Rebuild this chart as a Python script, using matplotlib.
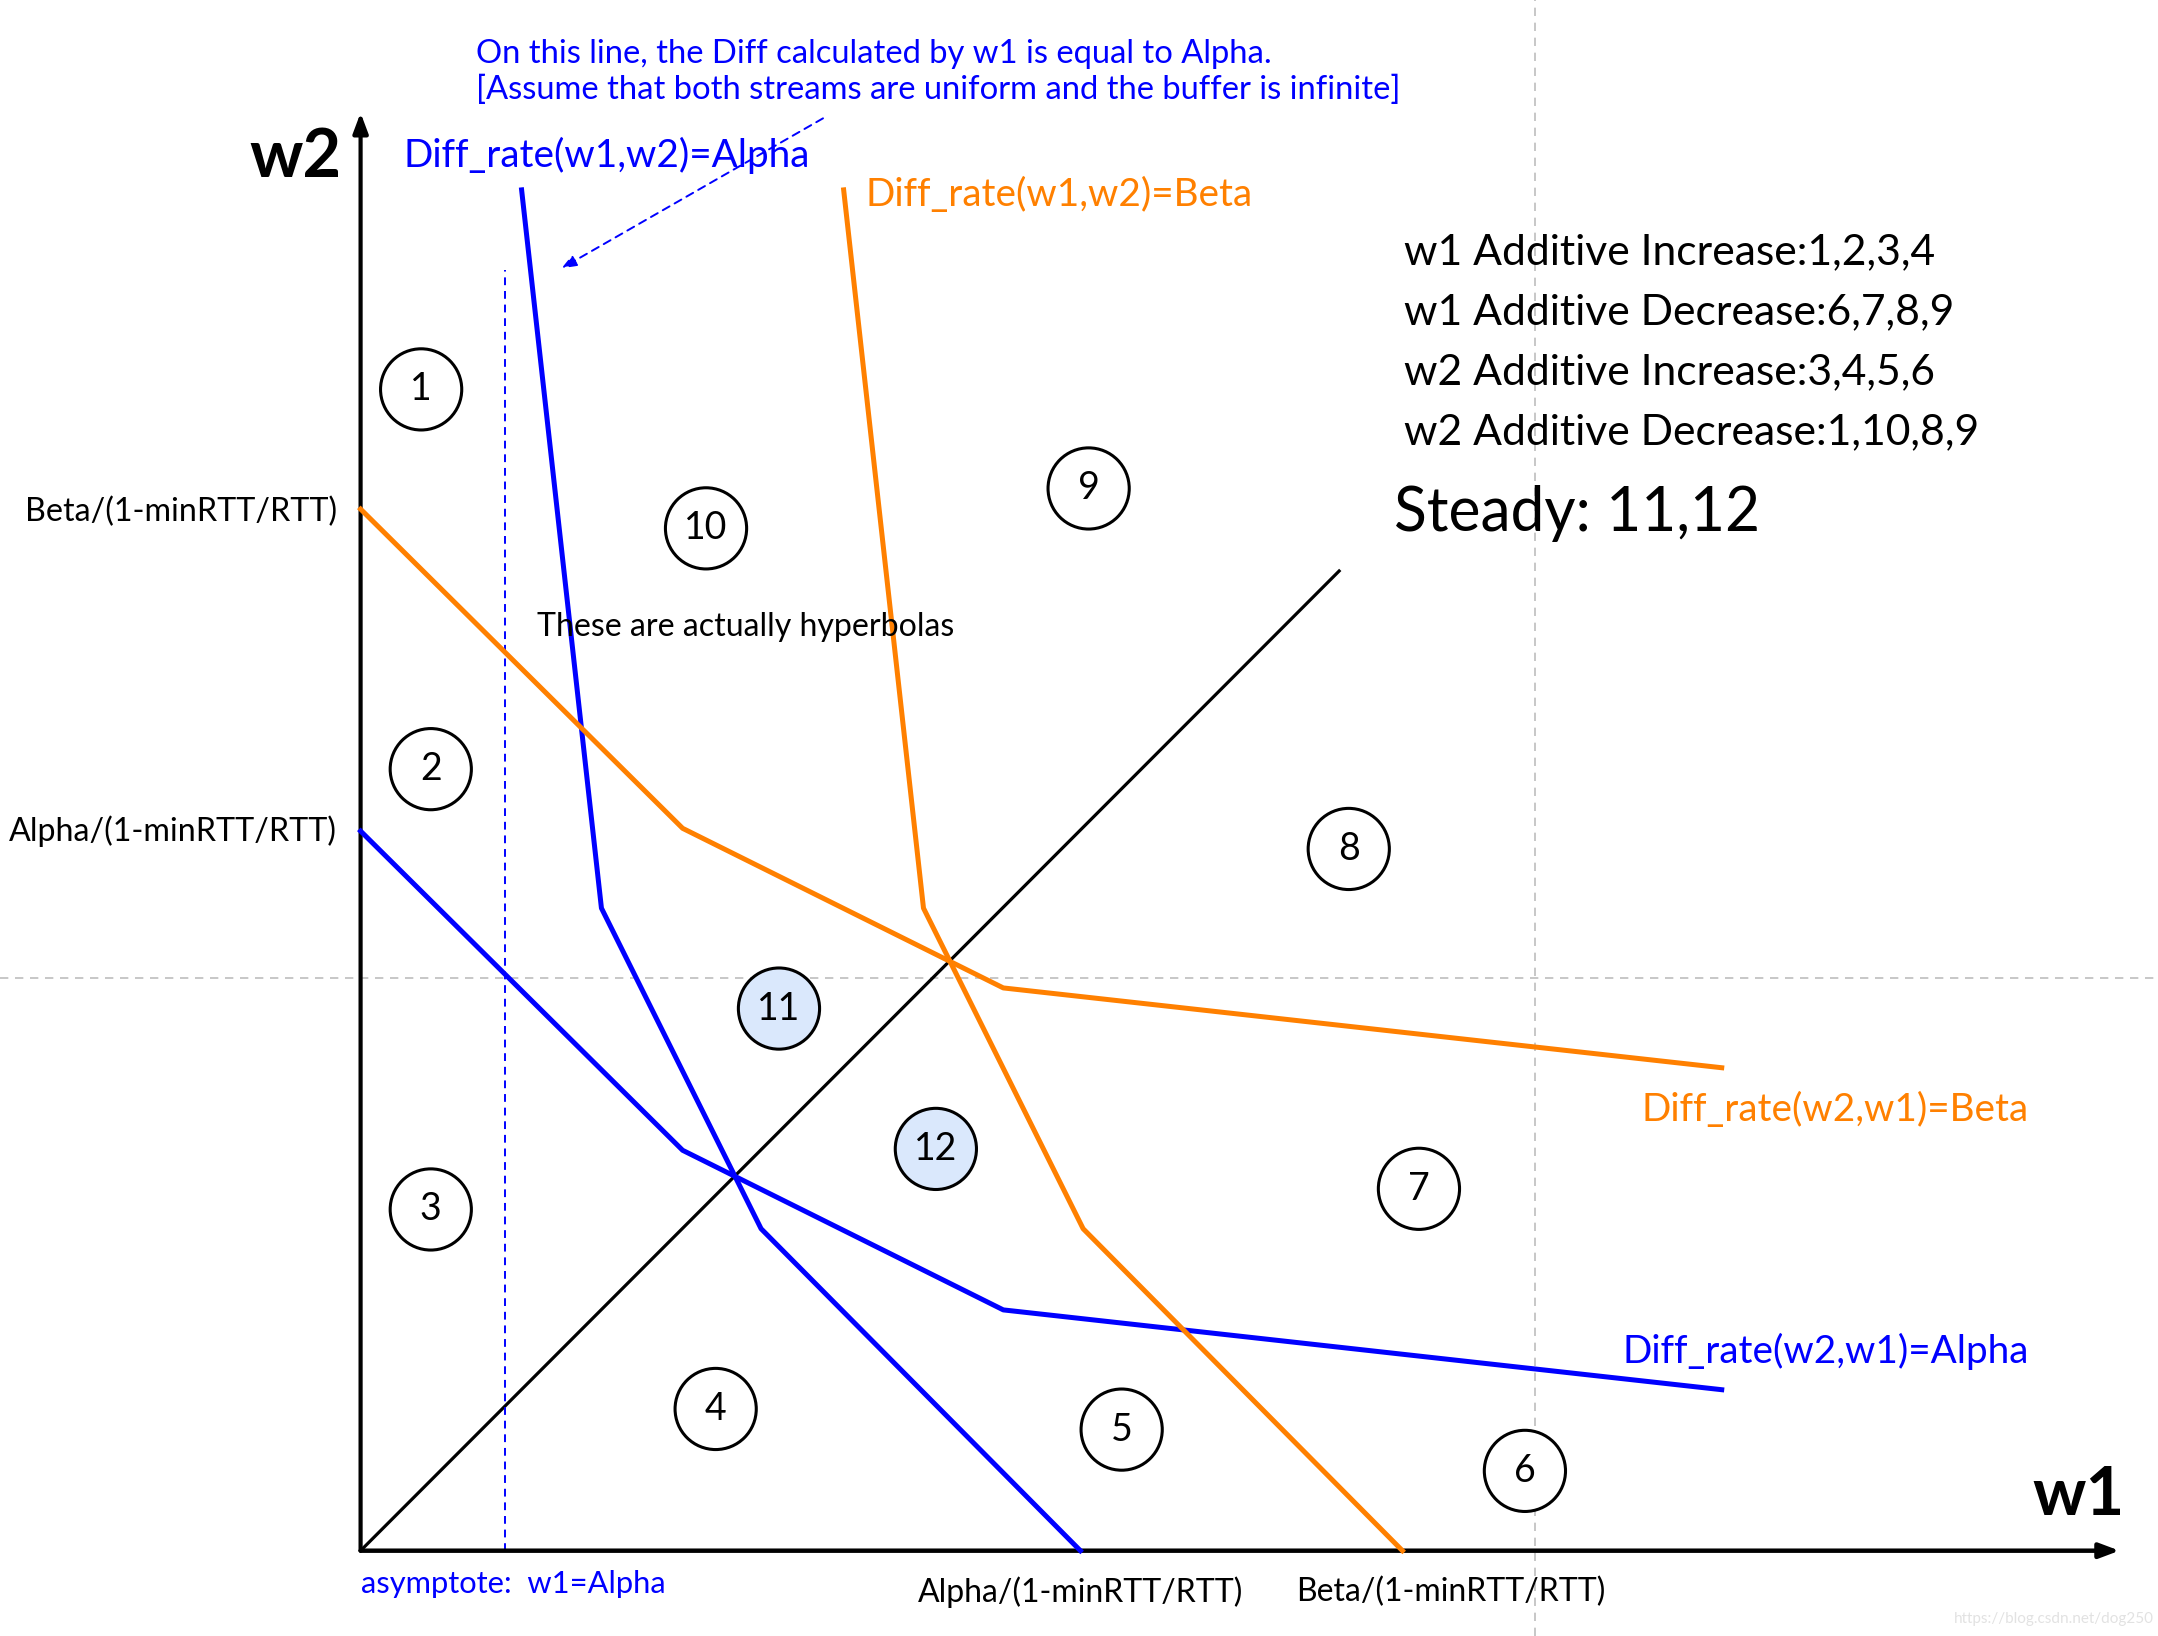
import matplotlib
matplotlib.use("Agg")
import matplotlib.pyplot as plt
from matplotlib.patches import Circle

plt.rcParams['font.family'] = ['Lato', 'DejaVu Sans']

# ---- data (diagram units, origin at axis origin, w2 upward) ----
blue_w1w2_x = [117, 175, 291, 523]
blue_w1w2_y = [989, 467, 234, 0]
blue_w2w1_x = [0, 234, 467, 989]
blue_w2w1_y = [523, 291, 175, 117]
orange_w1w2_x = [351, 409, 525, 757]
orange_w1w2_y = [989, 467, 234, 0]
orange_w2w1_x = [0, 234, 467, 989]
orange_w2w1_y = [757, 525, 409, 351]
diag_x = [0, 711]
diag_y = [0, 712]
asym_x = 105
asym_top = 931
grid_h_y = 416
grid_v_x = 853

region_labels = ['1', '2', '3', '4', '5', '6', '7', '8', '9', '10', '11', '12']
region_x = [44, 51, 51, 258, 553, 846, 769, 718, 529, 251, 304, 418]
region_y = [844, 568, 248, 103, 88, 58, 263, 510, 772, 743, 394, 292]
steady_regions = ['11', '12']

rules = ["w1 Additive Increase:1,2,3,4",
         "w1 Additive Decrease:6,7,8,9",
         "w2 Additive Increase:3,4,5,6",
         "w2 Additive Decrease:1,10,8,9"]

BLUE = '#0000FF'
ORANGE = '#FF8000'

fig = plt.figure(figsize=(21.58, 16.36), dpi=100)
ax = fig.add_axes([0, 0, 1, 1])
ax.set_xlim(-262, 1306)
ax.set_ylim(-62, 1127)
ax.axis('off')

# grey dashed guides
ax.axhline(grid_h_y, color='#bdbdbd', lw=1.2, ls=(0, (5, 4)), zorder=0)
ax.axvline(grid_v_x, color='#bdbdbd', lw=1.2, ls=(0, (5, 4)), zorder=0)

# axes with arrows
ax.annotate('', xy=(0, 1045), xytext=(0, 0),
            arrowprops=dict(arrowstyle='-|>,head_length=1.2,head_width=0.45', lw=3, color='black',
                            shrinkA=0, shrinkB=0))
ax.annotate('', xy=(1278, 0), xytext=(0, 0),
            arrowprops=dict(arrowstyle='-|>,head_length=1.2,head_width=0.45', lw=3.2, color='black',
                            shrinkA=0, shrinkB=0))

# diagonal
ax.plot(diag_x, diag_y, color='black', lw=2.3, zorder=2)

# asymptote
ax.plot([asym_x, asym_x], [0, asym_top], color=BLUE, lw=1.4, ls=(0, (4, 3)), zorder=2)

# curves
ax.plot(blue_w1w2_x, blue_w1w2_y, color=BLUE, lw=3.6, zorder=3)
ax.plot(blue_w2w1_x, blue_w2w1_y, color=BLUE, lw=3.6, zorder=3)
ax.plot(orange_w1w2_x, orange_w1w2_y, color=ORANGE, lw=3.6, zorder=3)
ax.plot(orange_w2w1_x, orange_w2w1_y, color=ORANGE, lw=3.6, zorder=3)

# pointer arrow
ax.annotate('', xy=(146, 932), xytext=(336, 1041),
            arrowprops=dict(arrowstyle='-|>,head_length=0.9,head_width=0.35', lw=1.4, color=BLUE,
                            ls=(0, (4, 3)), shrinkA=0, shrinkB=0))

# region circles
for lab, x, y in zip(region_labels, region_x, region_y):
    fc = '#dae8fc' if lab in steady_regions else 'white'
    ax.add_patch(Circle((x, y), 29.5, facecolor=fc, edgecolor='black', lw=2.2, zorder=4))
    ax.text(x, y, lab, ha='center', va='center', fontsize=27, color='black', zorder=5)

# text
ax.text(-47, 1012, 'w2', ha='center', va='center', fontsize=48, fontweight='bold')
ax.text(1248, 40, 'w1', ha='center', va='center', fontsize=48, fontweight='bold')
ax.text(31, 1014, 'Diff_rate(w1,w2)=Alpha', ha='left', va='center', fontsize=27.8, color=BLUE)
ax.text(367, 985, 'Diff_rate(w1,w2)=Beta', ha='left', va='center', fontsize=27.8, color=ORANGE)
ax.text(931, 320, 'Diff_rate(w2,w1)=Beta', ha='left', va='center', fontsize=27.8, color=ORANGE)
ax.text(917, 145, 'Diff_rate(w2,w1)=Alpha', ha='left', va='center', fontsize=27.8, color=BLUE)
ax.text(84, 1088, 'On this line, the Diff calculated by w1 is equal to Alpha.', ha='left', va='center',
        fontsize=23.6, color=BLUE)
ax.text(84, 1062, '[Assume that both streams are uniform and the buffer is infinite]', ha='left',
        va='center', fontsize=23.6, color=BLUE)
ax.text(128, 671, 'These are actually hyperbolas', ha='left', va='center', fontsize=23.1, color='black')
ax.text(-17, 755, 'Beta/(1-minRTT/RTT)', ha='right', va='center', fontsize=23.2)
ax.text(-17, 523, 'Alpha/(1-minRTT/RTT)', ha='right', va='center', fontsize=23.2)
ax.text(0, -24, 'asymptote:  w1=Alpha', ha='left', va='center', fontsize=22.2, color=BLUE)
ax.text(523, -30, 'Alpha/(1-minRTT/RTT)', ha='center', va='center', fontsize=23)
ax.text(792, -30, 'Beta/(1-minRTT/RTT)', ha='center', va='center', fontsize=23)
for i, r in enumerate(rules):
    ax.text(758, 944 - i * 43.7, r, ha='left', va='center', fontsize=30.7)
ax.text(751, 754, 'Steady: 11,12', ha='left', va='center', fontsize=43.6)
ax.text(1303, -50, 'https://blog.csdn.net/dog250', ha='right', va='center', fontsize=11, color='#e2e2e2')

fig.savefig('out.png', dpi=100)
